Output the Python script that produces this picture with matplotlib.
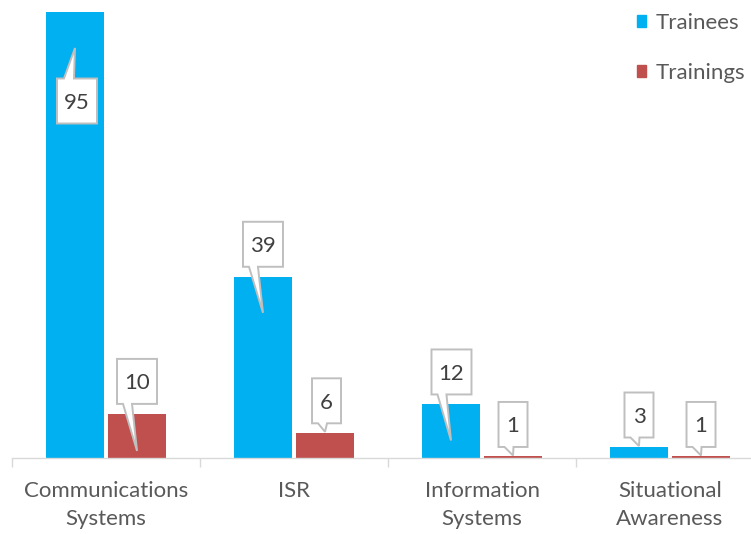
import matplotlib
matplotlib.use('Agg')
import matplotlib.pyplot as plt
import matplotlib.transforms as mtransforms
from matplotlib.patches import Polygon, Patch
import numpy as np

categories = ["Communications\nSystems", "ISR", "Information\nSystems", "Situational\nAwareness"]
series_names = ["Trainees", "Trainings"]
trainees = [95, 39, 12, 3]
trainings = [10, 6, 1, 1]

BLUE = '#00B0F0'
RED = '#C0504D'
GRID = '#D9D9D9'
TXT = '#595959'
LBL = '#404040'
BORDER = '#BFBFBF'

W, H, DPI = 751, 534, 100
FS = 16
plt.rcParams['font.family'] = ['Lato', 'DejaVu Sans']

fig = plt.figure(figsize=(W / DPI, H / DPI), dpi=DPI)
ax = fig.add_axes([12 / W, (H - 457.5) / H, (764 - 12) / W, (457.5 - 12) / H])

x = np.arange(len(categories))
bw = 0.31
off = 0.165
ax.bar(x - off, trainees, bw, color=BLUE, zorder=2)
ax.bar(x + off, trainings, bw, color=RED, zorder=2)
ax.set_xlim(-0.5, len(categories) - 0.5)
ax.set_ylim(0.78, 95)

for s in ['top', 'left', 'right']:
    ax.spines[s].set_visible(False)
ax.spines['bottom'].set_color(GRID)
ax.spines['bottom'].set_linewidth(1.0)
ax.set_yticks([])
ax.set_xticks(x)
ax.set_xticklabels(categories, fontsize=FS, color=TXT, linespacing=1.5)
ax.tick_params(axis='x', which='major', length=0, pad=17)
ax.set_xticks(np.arange(-0.5, len(categories) + 0.5, 1), minor=True)
ax.tick_params(axis='x', which='minor', length=6.5, color=GRID, width=1.0)


def px(v):
    return v / DPI


def callout(xd, yd, value, depth, dx, dy, up=False):
    """depth: px below bar top of the pointer tip; (dx, dy): box centre from tip in px (image coords, down +)."""
    trans = fig.dpi_scale_trans + mtransforms.ScaledTranslation(xd, yd, ax.transData)
    n = len(str(value))
    w = 18 + 11 * n
    h = 45
    tx, ty = 0.0, -depth
    cx, cy = tx + dx, ty - dy
    L, R = cx - w / 2, cx + w / 2
    T, B = cy + h / 2, cy - h / 2
    if not up:
        verts = [(L, T), (R, T), (R, B), (L + 15, B), (tx, ty), (L + 6, B), (L, B)]
    else:
        verts = [(L, T), (L + 7, T), (tx, ty), (L + 17, T), (R, T), (R, B), (L, B)]
    verts = [(px(a), px(b)) for a, b in verts]
    poly = Polygon(verts, closed=True, fc='white', ec=BORDER, lw=1.4,
                   transform=trans, clip_on=False, zorder=5, joinstyle='miter')
    ax.add_patch(poly)
    ax.text(px(cx), px(cy), str(value), transform=trans, ha='center',
            va='center_baseline', fontsize=FS, color=LBL, zorder=6)


# layout for each label: (tip depth px, box dx, box dy, pointer up)
lay_trainees = [(36, 2, 53, True), (36, 0, -68.5, False), (36, 0.5, -68.5, False), (-1, 0, -31, False)]
lay_trainings = [(37, 0, -69.5, False), (-1, 1.5, -31, False), (-1, 0, -31, False), (-1, 0, -31, False)]

for i in range(len(categories)):
    d, dx, dy, up = lay_trainees[i]
    callout(x[i] - off, trainees[i], trainees[i], d, dx, dy, up)
    d, dx, dy, up = lay_trainings[i]
    callout(x[i] + off, trainings[i], trainings[i], d, dx, dy, up)

handles = [Patch(color=BLUE), Patch(color=RED)]
fig.legend(handles, series_names, loc='upper left', bbox_to_anchor=(637 / W, 1 - 13 / H),
           frameon=False, fontsize=FS, labelcolor=TXT, handlelength=0.4, handleheight=0.4,
           handletextpad=0.45, labelspacing=1.35, borderpad=0, borderaxespad=0)

fig.savefig('out.png', dpi=DPI)
